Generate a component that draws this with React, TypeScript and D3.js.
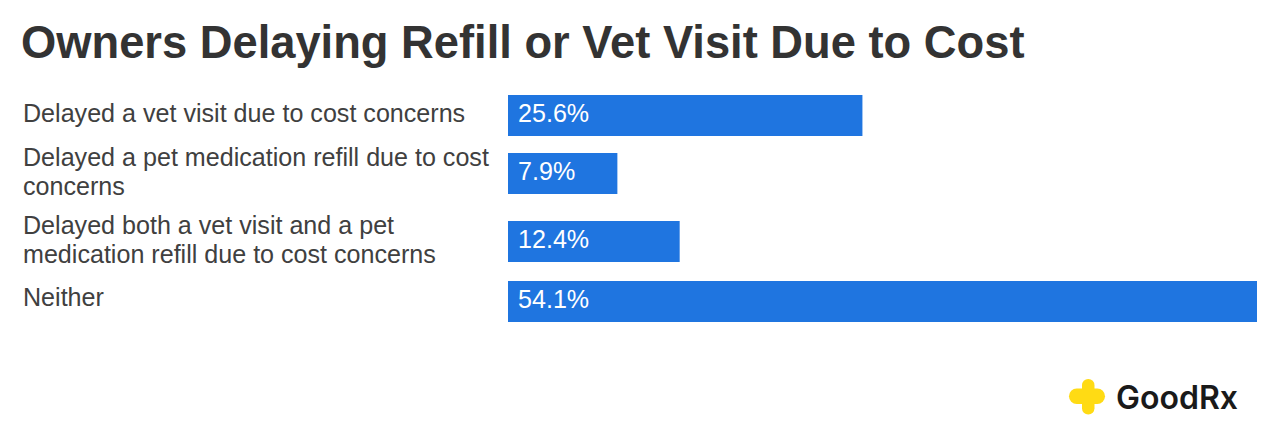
import React from "react";
import * as d3 from "d3";

const title = "Owners Delaying Refill or Vet Visit Due to Cost";
const categories = ["vet", "refill", "both", "neither"];
const labelLines = [
  ["Delayed a vet visit due to cost concerns"],
  ["Delayed a pet medication refill due to cost", "concerns"],
  ["Delayed both a vet visit and a pet", "medication refill due to cost concerns"],
  ["Neither"],
];
const values = [25.6, 7.9, 12.4, 54.1];

const W = 1280, H = 446;
const font = "Helvetica, 'Liberation Sans', Arial, sans-serif";
const x = d3.scaleLinear().domain([0, 54.1]).range([508, 1257]);
const y = d3.scaleOrdinal<string, number>().domain(categories).range([95, 153, 221, 281]);
const barH = 41;

export default function App() {
  return (
    <svg width={W} height={H} viewBox={`0 0 ${W} ${H}`} style={{ position: "absolute", left: 0, top: 0, background: "#fff" }}>
      <text x={21} y={58} fontFamily={font} fontWeight={700} fontSize={45.3} fill="#333333">{title}</text>
      {categories.map((c, i) => {
        const top = y(c)!;
        return (
          <g key={c}>
            {labelLines[i].map((l, j) => (
              <text key={j} x={23} y={i === 0 ? top + 27 : i === 3 ? top + 25 : top + 13 + j * 28.5} fontFamily={font} fontSize={25.1} fill="#404040">{l}</text>
            ))}
            <rect x={x(0)} y={top} width={x(values[i]) - x(0)} height={barH} fill="#1f75e0" />
            <text x={x(0) + 10} y={top + 27} fontFamily={font} fontSize={25.1} fill="#ffffff">{values[i].toFixed(1)}%</text>
          </g>
        );
      })}
      <g fill="#ffdb14">
        <rect x={1082} y={379} width={12.5} height={35.5} rx={6.2} />
        <rect x={1069} y={388.5} width={36} height={15.5} rx={7.7} />
      </g>
      <text x={1116} y={408.5} fontFamily="'Inter', 'Noto Sans', sans-serif" fontWeight={600} fontSize={32} letterSpacing={0} fill="#1a1a1a">GoodRx</text>
    </svg>
  );
}
